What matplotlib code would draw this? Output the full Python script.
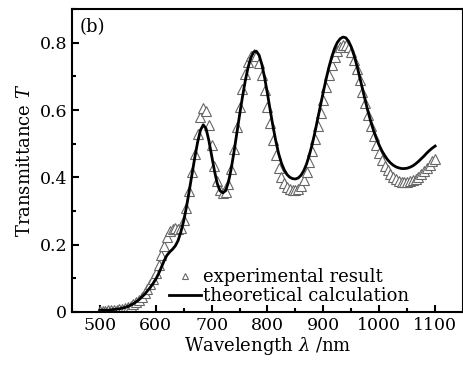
import numpy as np
import matplotlib
matplotlib.use("Agg")
import matplotlib.pyplot as plt

plt.rcParams['font.family'] = ['DejaVu Serif']
plt.rcParams['mathtext.fontset'] = 'dejavuserif'

# experimental transmittance, every 5 nm from 500 to 1100
wl_exp = np.arange(500, 1101, 5)
t_exp = [0.003, 0.003, 0.003, 0.004, 0.004, 0.005, 0.006, 0.007, 0.008, 0.010,
         0.013, 0.017, 0.022, 0.028, 0.036, 0.045, 0.056, 0.068, 0.082, 0.098,
         0.116, 0.140, 0.168, 0.197, 0.222, 0.240, 0.247, 0.248, 0.246, 0.250,
         0.272, 0.310, 0.360, 0.415, 0.470, 0.530, 0.578, 0.607, 0.598, 0.555,
         0.495, 0.435, 0.390, 0.362, 0.352, 0.356, 0.380, 0.425, 0.485, 0.550,
         0.610, 0.662, 0.708, 0.742, 0.762, 0.768, 0.762, 0.740, 0.705, 0.660,
         0.610, 0.560, 0.510, 0.465, 0.428, 0.400, 0.382, 0.370, 0.364, 0.362,
         0.362, 0.365, 0.375, 0.392, 0.415, 0.445, 0.478, 0.515, 0.553, 0.592,
         0.630, 0.668, 0.703, 0.733, 0.758, 0.776, 0.787, 0.792, 0.792, 0.786,
         0.772, 0.750, 0.722, 0.690, 0.655, 0.620, 0.585, 0.552, 0.522, 0.495,
         0.472, 0.452, 0.435, 0.421, 0.410, 0.401, 0.395, 0.390, 0.387, 0.386,
         0.386, 0.388, 0.391, 0.396, 0.402, 0.410, 0.418, 0.428, 0.438, 0.447,
         0.455]

# theoretical transmittance, every 5 nm from 500 to 1100
wl_th = np.arange(500, 1101, 5)
t_th = [0.005, 0.005, 0.005, 0.005, 0.006, 0.007, 0.008, 0.009, 0.011, 0.013,
        0.016, 0.020, 0.024, 0.030, 0.036, 0.044, 0.052, 0.062, 0.072, 0.084,
        0.097, 0.113, 0.132, 0.152, 0.168, 0.178, 0.186, 0.196, 0.212, 0.238,
        0.270, 0.312, 0.360, 0.410, 0.460, 0.505, 0.540, 0.556, 0.545, 0.510,
        0.465, 0.420, 0.382, 0.360, 0.354, 0.360, 0.385, 0.425, 0.475, 0.530,
        0.585, 0.637, 0.685, 0.725, 0.755, 0.772, 0.775, 0.763, 0.735, 0.695,
        0.648, 0.598, 0.550, 0.507, 0.470, 0.442, 0.422, 0.408, 0.400, 0.396,
        0.395, 0.398, 0.406, 0.420, 0.440, 0.467, 0.498, 0.535, 0.575, 0.615,
        0.655, 0.693, 0.728, 0.758, 0.783, 0.801, 0.812, 0.817, 0.815, 0.805,
        0.787, 0.762, 0.732, 0.698, 0.663, 0.628, 0.595, 0.565, 0.538, 0.515,
        0.495, 0.478, 0.464, 0.452, 0.443, 0.436, 0.431, 0.428, 0.426, 0.426,
        0.427, 0.430, 0.434, 0.440, 0.447, 0.455, 0.463, 0.472, 0.480, 0.487,
        0.493]

fig = plt.figure(figsize=(4.64, 3.66), dpi=100)
ax = fig.add_axes([0.155, 0.148, 0.843, 0.827])

ax.plot(wl_exp, t_exp, linestyle='none', marker='^', markersize=7,
        markerfacecolor='white', markeredgecolor='#666666', markeredgewidth=0.8,
        label='experimental result')
ax.plot(wl_th, t_th, color='black', linewidth=2, label='theoretical calculation')

ax.set_xlim(450, 1150)
ax.set_ylim(0, 0.9)
ax.set_xticks([500, 600, 700, 800, 900, 1000, 1100])
ax.set_xticks(np.arange(450, 1151, 50), minor=True)
ax.set_yticks([0, 0.2, 0.4, 0.6, 0.8])
ax.set_yticklabels(['0', '0.2', '0.4', '0.6', '0.8'])
ax.set_yticks(np.arange(0, 0.91, 0.1), minor=True)
ax.tick_params(which='both', direction='in', width=1.5, labelsize=12.5)
ax.tick_params(which='major', length=5)
ax.tick_params(which='minor', length=3)
for s in ax.spines.values():
    s.set_linewidth(1.5)

ax.set_xlabel(r'Wavelength $\lambda$ /nm', fontsize=13, labelpad=1)
ax.set_ylabel(r'Transmittance $T$', fontsize=13, labelpad=4)
ax.text(0.02, 0.97, '(b)', transform=ax.transAxes, fontsize=13, va='top')

ax.legend(loc='lower left', bbox_to_anchor=(0.215, -0.02), frameon=False,
          fontsize=13, handlelength=1.8, handletextpad=0.1, labelspacing=0.05,
          borderpad=0.2, markerscale=0.6, numpoints=1)

fig.savefig('out.png', dpi=100)
